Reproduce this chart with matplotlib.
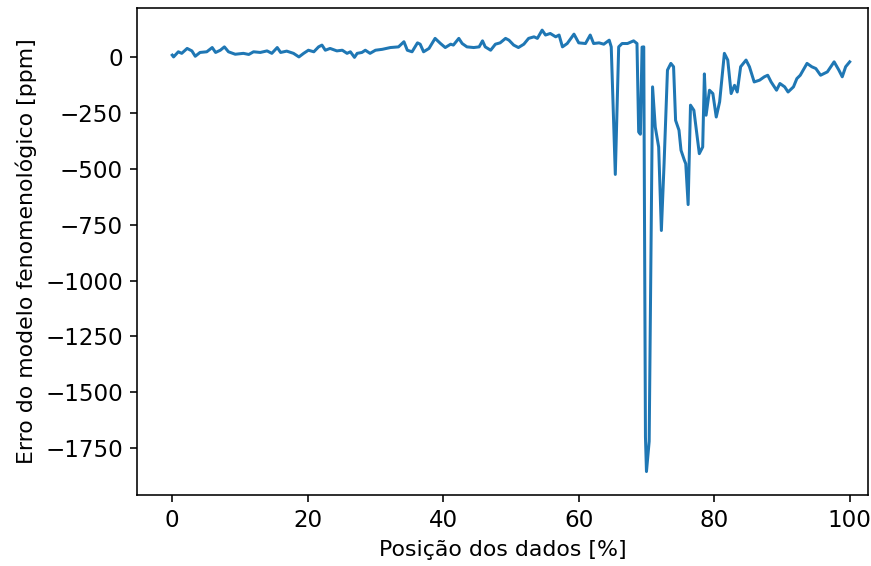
import matplotlib
matplotlib.use('Agg')
import matplotlib.pyplot as plt

# posição dos dados [%] e erro [ppm]
posicao = [
    0.0, 0.2, 0.9, 1.4, 2.2, 2.9, 3.4, 4.1, 5.1, 5.9, 6.4, 7.1, 7.7, 8.3, 9.3,
    10.5, 11.3, 12.0, 13.0, 14.0, 14.7, 15.5, 16.0, 16.9, 17.9, 18.7, 19.4,
    20.1, 20.9, 21.6, 22.1, 22.6, 23.3, 24.3, 25.1, 25.8, 26.3, 26.9, 27.3,
    28.0, 28.5, 29.2, 30.0, 31.0, 32.2, 33.4, 34.2, 34.7, 35.4, 36.2, 36.6,
    37.1, 37.9, 38.8, 39.6, 40.3, 41.1, 41.5, 42.3, 42.8, 43.5, 44.5, 45.3,
    45.8, 46.2, 47.0, 47.7, 48.4, 49.2, 49.7, 50.4, 51.1, 51.9, 52.6, 53.4,
    53.9, 54.6, 55.1, 55.8, 56.6, 57.1, 57.6, 58.3, 59.3, 60.0, 61.0, 61.7,
    62.2, 63.0, 63.7, 64.5, 64.8, 65.4, 65.9, 66.4, 67.2, 68.1, 68.6, 68.85,
    69.1, 69.35, 69.6, 69.85, 70.0, 70.4, 70.9, 71.3, 71.8, 72.2, 72.6, 73.1,
    73.6, 74.0, 74.3, 74.8, 75.1, 75.6, 75.8, 76.15, 76.5, 77.0, 77.8, 78.3,
    78.55, 78.8, 79.3, 79.8, 80.3, 80.8, 81.5, 82.0, 82.5, 83.0, 83.4, 83.9,
    84.7, 85.2, 85.9, 86.7, 87.4, 87.9, 88.4, 89.2, 89.7, 90.4, 90.9, 91.7,
    92.2, 92.7, 93.7, 94.4, 95.0, 95.7, 96.7, 97.7, 98.4, 98.9, 99.4, 100.0,
]
erro = [
    9, 1, 24, 17, 39, 28, 4, 21, 24, 43, 21, 31, 46, 24, 13,
    17, 12, 24, 21, 28, 17, 43, 21, 27, 17, 1, 17,
    31, 24, 46, 54, 31, 39, 28, 31, 17, 24, -1, 17,
    21, 31, 17, 31, 35, 43, 46, 69, 31, 24, 64, 58,
    24, 39, 84, 61, 43, 58, 54, 84, 61, 46, 43, 46,
    73, 46, 31, 58, 64, 84, 76, 54, 43, 58, 84, 91,
    84, 121, 99, 106, 91, 99, 46, 61, 103, 64, 61, 99,
    61, 64, 58, 76, 46, -525, 46, 61, 61, 73, 61, -335,
    -345, 45, 46, -1700, -1855, -1720, -133, -313, -402, -776, -477, -58,
    -28, -43, -283, -327, -417, -462, -477, -660, -215, -238, -432, -402,
    -75, -260, -148, -163, -268, -200, 17, -13, -163, -126, -156, -43,
    -13, -43, -111, -103, -88, -81, -111, -148, -118, -133, -156, -133,
    -96, -81, -28, -43, -51, -81, -66, -21, -58, -88, -43, -21,
]

fig = plt.figure(figsize=(871 / 144, 566 / 144), dpi=144)
ax = fig.add_axes([137 / 871, 71 / 566, 731 / 871, 487 / 566])

ax.plot(posicao, erro)
ax.set_xlim(-5.2, 102.7)
ax.set_ylim(-1960, 220)
ax.tick_params(labelsize=11.5)
ax.set_xlabel('Posição dos dados [%]', fontsize=11)
ax.set_ylabel('Erro do modelo fenomenológico [ppm]', fontsize=11)

fig.savefig('out.png', dpi=144)
